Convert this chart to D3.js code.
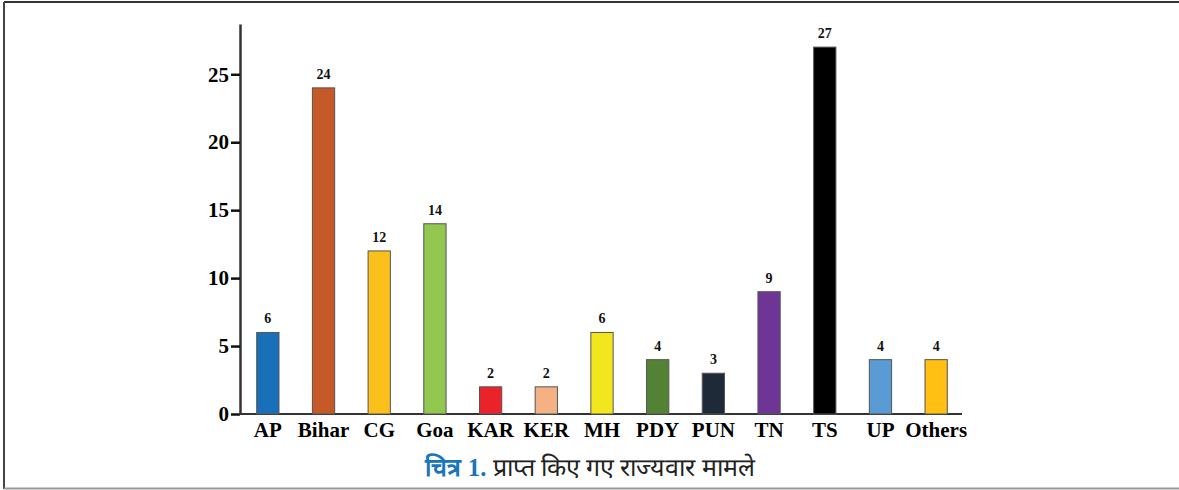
<!DOCTYPE html>
<html>
<head>
<meta charset="utf-8">
<script src="https://cdn.jsdelivr.net/npm/d3@7"></script>
<style>
  body { margin: 0; background: #fff; }
  svg { display: block; }
</style>
</head>
<body>
<div id="graph"></div>
<script>
var states = ["AP", "Bihar", "CG", "Goa", "KAR", "KER", "MH", "PDY", "PUN", "TN", "TS", "UP", "Others"];
var cases = [6, 24, 12, 14, 2, 2, 6, 4, 3, 9, 27, 4, 4];
var barColors = ["#1a6fb9", "#c55a28", "#fcc01a", "#92c84f", "#ea232a", "#f4b183", "#f2e61c",
  "#548235", "#1f2a38", "#6f3596", "#000000", "#5b9bd5", "#ffc013"];
var yTicks = [0, 5, 10, 15, 20, 25];
var captionLabel = "चित्र 1.";
var captionText = "प्राप्त किए गए राज्यवार मामले";

var width = 1179;
var height = 490;

var svg = d3.select("#graph").
append("svg").
attr("width", width).
attr("height", height);

// frame: top, left and bottom rules
svg.append("line").attr("x1", 4).attr("x2", width).attr("y1", 2).attr("y2", 2).
attr("stroke", "#333").attr("stroke-width", 2);
svg.append("line").attr("x1", 4).attr("x2", 4).attr("y1", 2).attr("y2", 489).
attr("stroke", "#444").attr("stroke-width", 2);
svg.append("line").attr("x1", 4).attr("x2", width).attr("y1", 488.5).attr("y2", 488.5).
attr("stroke", "#999").attr("stroke-width", 2);

var x = d3.scaleBand().
domain(states).
range([240, 964]).
paddingInner(0.6).
paddingOuter(0.3);

var y = d3.scaleLinear().
domain([0, 28.7]).
range([414, 24]);

var serif = "'Liberation Serif', 'Times New Roman', serif";

// y axis
var yAxis = svg.append("g").
attr("transform", "translate(240,0)").
call(d3.axisLeft(y).tickValues(yTicks).tickSize(9).tickSizeOuter(0).tickPadding(2));
yAxis.select(".domain").attr("stroke", "#333").attr("stroke-width", 2.5);
yAxis.selectAll(".tick line").attr("stroke", "#111").attr("stroke-width", 2.5);
yAxis.selectAll(".tick text").
attr("font-family", serif).attr("font-weight", "bold").attr("font-size", 21).attr("fill", "#000");

// x axis
var xAxis = svg.append("g").
attr("transform", "translate(0,414)").
call(d3.axisBottom(x).tickSize(0).tickPadding(8));
xAxis.select(".domain").attr("d", "M239,0H962").attr("stroke", "#333").attr("stroke-width", 2);
xAxis.selectAll(".tick text").
attr("font-family", serif).attr("font-weight", "bold").attr("font-size", 21).attr("fill", "#000");

// bars
svg.selectAll("rect.bar").
data(states).
enter().
append("rect").
attr("class", "bar").
attr("x", function (d) {return x(d);}).
attr("width", x.bandwidth()).
attr("y", function (d, i) {return y(cases[i]);}).
attr("height", function (d, i) {return y(0) - y(cases[i]);}).
attr("fill", function (d, i) {return barColors[i];}).
attr("stroke", "#555").
attr("stroke-width", 1);

// value labels
svg.selectAll("text.val").
data(states).
enter().
append("text").
attr("class", "val").
attr("x", function (d) {return x(d) + x.bandwidth() / 2;}).
attr("y", function (d, i) {return y(cases[i]) - 9;}).
attr("text-anchor", "middle").
attr("font-family", serif).
attr("font-weight", "bold").
attr("font-size", 14).
attr("fill", "#111").
text(function (d, i) {return cases[i];});

// caption
var cap = svg.append("text").
attr("x", 590).
attr("y", 476).
attr("text-anchor", "middle").
attr("font-size", 25).
attr("font-family", serif);
cap.append("tspan").attr("fill", "#1a75bc").attr("font-weight", "bold").text(captionLabel + " ");
cap.append("tspan").attr("fill", "#222").text(captionText);
</script>
</body>
</html>
